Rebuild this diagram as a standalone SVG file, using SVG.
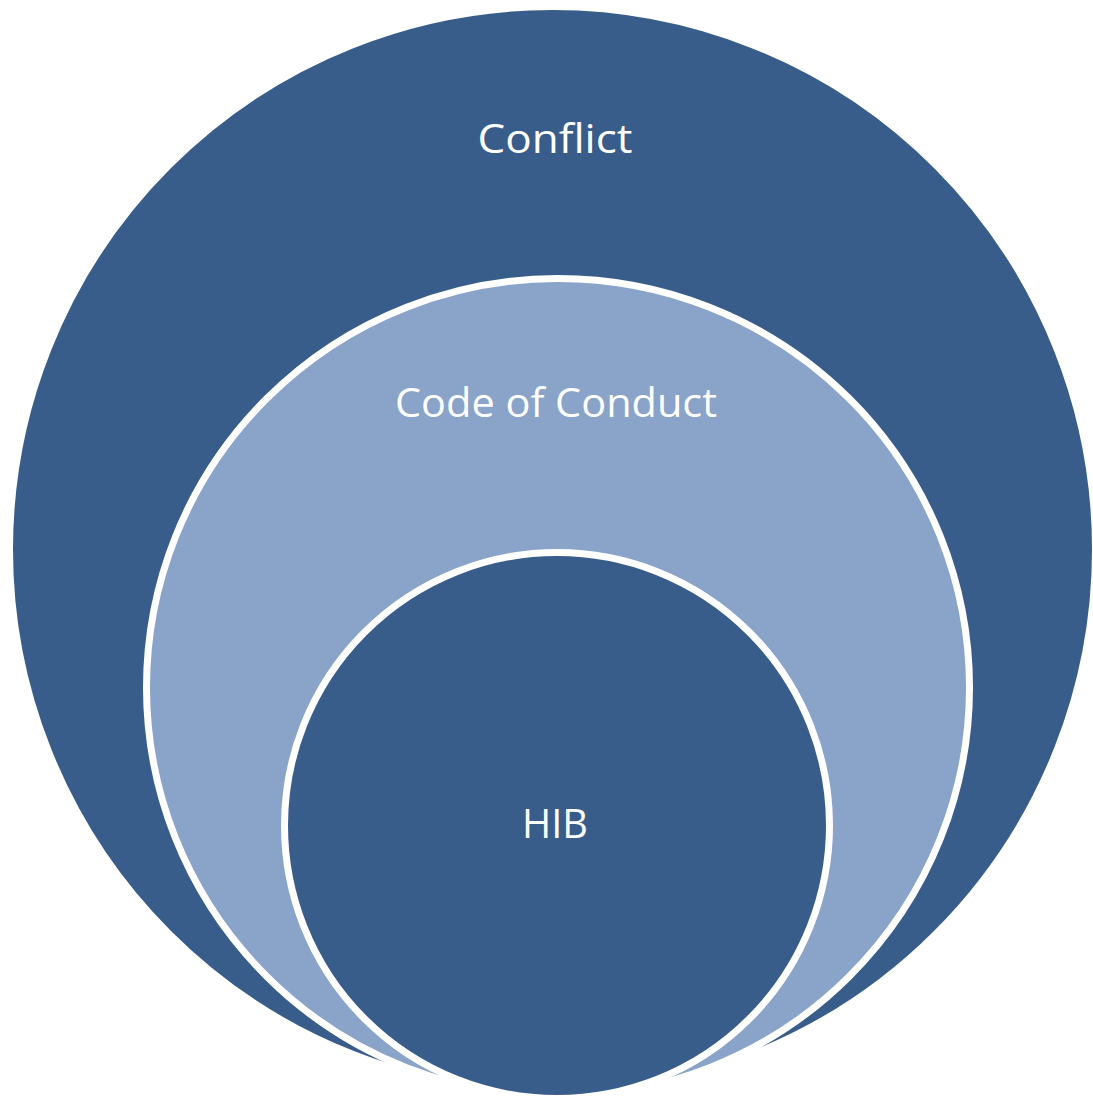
<svg xmlns="http://www.w3.org/2000/svg" width="1093" height="1100" viewBox="0 0 1093 1100">
<style>
.dark{fill:#385D8A;stroke:#FFFFFF;stroke-width:7}
.light{fill:#89A3C9;stroke:#FFFFFF;stroke-width:7}
.lbl{font-family:"Open Sans","Liberation Sans",sans-serif;font-size:41px;fill:#FFFFFF;text-anchor:middle}
</style>
<rect x="0" y="0" width="1093" height="1100" fill="#FFFFFF"/>
<g id="conflict">
<ellipse class="dark" cx="552.5" cy="549.5" rx="543" ry="543"/>
<text class="lbl" x="555" y="153" textLength="155" lengthAdjust="spacingAndGlyphs">Conflict</text>
</g>
<g id="code-of-conduct">
<ellipse class="light" cx="558" cy="687.5" rx="411.5" ry="409"/>
<text class="lbl" x="556" y="417" textLength="322" lengthAdjust="spacingAndGlyphs">Code of Conduct</text>
</g>
<g id="hib">
<ellipse class="dark" cx="557" cy="825.5" rx="272.5" ry="273"/>
<text class="lbl" x="555" y="838" textLength="66" lengthAdjust="spacingAndGlyphs">HIB</text>
</g>
<g id="connectors"></g>
</svg>
